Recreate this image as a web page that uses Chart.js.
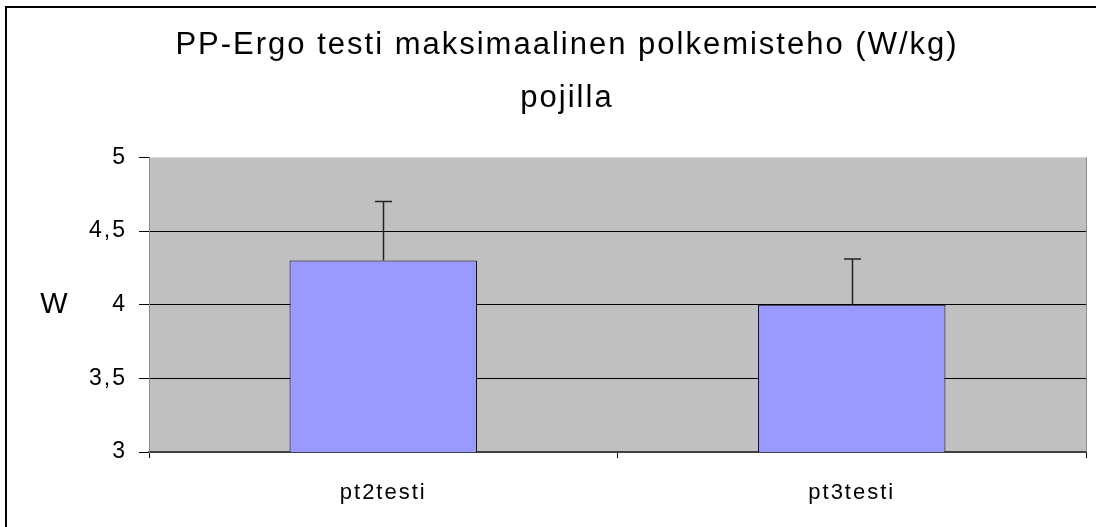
<!DOCTYPE html>
<html>
<head>
<meta charset="utf-8">
<script src="https://cdn.jsdelivr.net/npm/chart.js@4"></script>
<style>
  html, body { margin: 0; padding: 0; background: #fff; }
  #wrap { width: 1096px; height: 527px; }
</style>
</head>
<body>
<div id="wrap"><canvas id="myChart" width="1096" height="527"></canvas></div>
<script>
const categories = ['pt2testi', 'pt3testi'];
const means = [4.3, 4.0];
const errors = [0.4, 0.31];
const yTickValues = [3, 3.5, 4, 4.5, 5];
const yTickLabels = ['3', '3,5', '4', '4,5', '5'];
const titleLines = ['PP-Ergo testi maksimaalinen polkemisteho (W/kg)', 'pojilla'];
const yTitle = 'W';

const ctx = document.getElementById('myChart').getContext('2d');
const spacing = '2px';

// the original text is rendered a bit wide, so open it up a little
// (has to be set again after Chart.js resizes the canvas)
const wideText = {
    id: 'wideText',
    beforeUpdate(chart) { chart.ctx.letterSpacing = spacing; },
    beforeLayout(chart) { chart.ctx.letterSpacing = spacing; },
    beforeRender(chart) { chart.ctx.letterSpacing = spacing; }
};

const chartFrame = {
    id: 'chartFrame',
    beforeDraw(chart) {
        const c = chart.ctx;
        const a = chart.chartArea;
        c.letterSpacing = spacing;
        c.save();
        // outer chart border (runs off the right and bottom edge)
        c.strokeStyle = '#000';
        c.lineWidth = 2;
        c.strokeRect(6, 7, 1200, 700);
        // grey plot area
        c.fillStyle = '#C0C0C0';
        c.fillRect(a.left, a.top, a.right - a.left, a.bottom - a.top);
        c.restore();
    },
    afterDraw(chart) {
        const c = chart.ctx;
        const a = chart.chartArea;
        c.save();
        c.strokeStyle = '#8a8a8a';
        c.lineWidth = 1;
        c.beginPath();
        c.moveTo(a.right + 0.5, a.top);
        c.lineTo(a.right + 0.5, a.bottom);
        c.stroke();
        // axis title, drawn upright
        c.fillStyle = '#000';
        c.font = '29px "Liberation Sans", Arial, sans-serif';
        c.textAlign = 'center';
        c.textBaseline = 'middle';
        c.fillText(yTitle, 55, (a.top + a.bottom) / 2);
        c.restore();
    }
};

const errorBars = {
    id: 'errorBars',
    afterDatasetsDraw(chart) {
        const c = chart.ctx;
        const y = chart.scales.y;
        const meta = chart.getDatasetMeta(0);
        c.save();
        c.strokeStyle = '#222';
        c.lineWidth = 1.5;
        meta.data.forEach((bar, i) => {
            const top = y.getPixelForValue(means[i] + errors[i]);
            const x = Math.round(bar.x) + 0.5;
            c.beginPath();
            c.moveTo(x, bar.y);
            c.lineTo(x, top);
            c.moveTo(x - 8.5, top);
            c.lineTo(x + 8.5, top);
            c.stroke();
        });
        c.restore();
    }
};

new Chart(ctx, {
    type: 'bar',
    data: {
        labels: categories,
        datasets: [{
            data: means,
            backgroundColor: '#9999FF',
            borderColor: '#000',
            borderWidth: 1,
            categoryPercentage: 1,
            barPercentage: 0.4
        }]
    },
    options: {
        responsive: false,
        animation: false,
        layout: { padding: { left: 48, right: 10, top: 0, bottom: 0 } },
        plugins: {
            legend: { display: false },
            tooltip: { enabled: false },
            title: {
                display: true,
                text: titleLines,
                color: '#000',
                font: { family: '"Liberation Sans", Arial, sans-serif', size: 31, weight: 'normal', lineHeight: 1.7 },
                padding: { top: 19, bottom: 33 }
            }
        },
        scales: {
            x: {
                afterFit(scale) { scale.height = 75; },
                grid: {
                    color: 'transparent',
                    tickColor: '#000',
                    tickLength: 6,
                    offset: true
                },
                border: { color: '#404040', width: 2 },
                ticks: {
                    color: '#000',
                    padding: 22,
                    font: { family: '"Liberation Sans", Arial, sans-serif', size: 22 }
                }
            },
            y: {
                min: 3,
                max: 5,
                afterFit(scale) { scale.width = 101; },
                afterBuildTicks(scale) {
                    scale.ticks = yTickValues.map(v => ({ value: v }));
                },
                grid: {
                    color: c => (c.tick && c.tick.value === 5) ? 'transparent' : '#000',
                    tickColor: '#000',
                    tickLength: 10,
                    lineWidth: 1
                },
                border: { color: '#8a8a8a', width: 1 },
                ticks: {
                    color: '#000',
                    padding: 12,
                    font: { family: '"Liberation Sans", Arial, sans-serif', size: 23 },
                    callback: value => yTickLabels[yTickValues.indexOf(value)]
                }
            }
        }
    },
    plugins: [wideText, chartFrame, errorBars]
});
</script>
</body>
</html>
